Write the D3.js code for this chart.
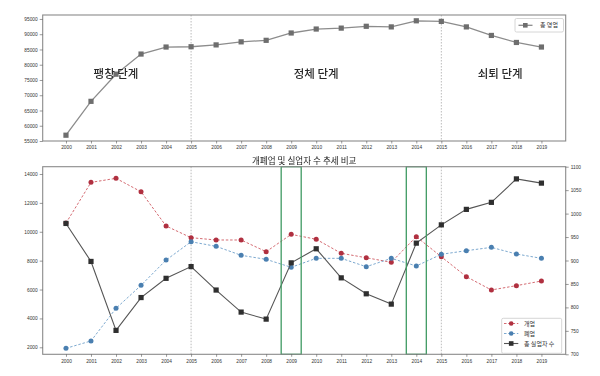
<!DOCTYPE html>
<html><head><meta charset="utf-8">
<script src="https://cdn.jsdelivr.net/npm/d3@7"></script>
<style>
html,body{margin:0;padding:0;background:#fff;}
svg{display:block;}
svg text{-webkit-font-smoothing:antialiased;}
</style></head>
<body>
<svg id="chart" width="600" height="376"></svg>
<script>
// ---- data ----
const years = [2000,2001,2002,2003,2004,2005,2006,2007,2008,2009,2010,2011,2012,2013,2014,2015,2016,2017,2018,2019];
const totalBusiness = [56900,68000,76900,83500,85800,85900,86500,87500,88000,90400,91700,92000,92600,92400,94400,94200,92400,89600,87300,85800];
const openings = [10600,13420,13700,12770,10400,9590,9430,9430,8620,9820,9480,8510,8200,7890,9660,8270,6890,5970,6270,6590];
const closures = [1930,2440,4700,6290,8040,9310,8990,8370,8090,7540,8160,8160,7580,8160,7630,8440,8690,8920,8460,8160];
const unemployed = [979,898,751,821,862,887,837,790,775,895,925,863,829,807,937,976,1009,1024,1074,1065];
const topTicks = [55000,60000,65000,70000,75000,80000,85000,90000,95000];
const leftTicks = [2000,4000,6000,8000,10000,12000,14000];
const rightTicks = [700,750,800,850,900,950,1000,1050,1100];
const phaseBoundaries = [2005,2015];
const phaseNames = ["팽창 단계","정체 단계","쇠퇴 단계"];
const phaseYears = [2002,2010,2017.35];
const highlightYears = [2009,2014];
const topLegend = ["총 영업"];
const bottomLegend = ["개업","폐업","총 실업자 수"];
const bottomTitle = "개폐업 및 실업자 수 추세 비교";

// ---- layout ----
const svg = d3.select("#chart");
const L = 42.7, R = 565.7;
const numFont = "'Liberation Sans', Arial, sans-serif";
const krFont = "'Noto Sans CJK KR', sans-serif";
const x = d3.scaleLinear().domain([1999.07, 2019.97]).range([L, R]);
const defs = svg.append("defs");
defs.append("filter").attr("id","gray").attr("x","-5%").attr("y","-20%").attr("width","110%").attr("height","140%")
  .append("feColorMatrix").attr("type","saturate").attr("values","0");
const root = svg.append("g");

function frame(g, top, bottom){
  g.append("rect").attr("x",L).attr("y",top).attr("width",R-L).attr("height",bottom-top)
   .attr("fill","none").attr("stroke","#8a8a8a").attr("stroke-width",1.1);
}
function styleAxis(a){
  a.select(".domain").remove();
  a.selectAll(".tick line").attr("stroke","#555").attr("stroke-width",0.6);
  a.selectAll(".tick text").attr("font-family",numFont).attr("font-size",4.8).attr("fill","#333");
}

// ---- top chart ----
const T0 = 15, T1 = 141;
const yTop = d3.scaleLinear().domain([55000, 96300]).range([T1, T0]);
const gt = root.append("g");
gt.append("rect").attr("x",L).attr("y",T0).attr("width",R-L).attr("height",T1-T0).attr("fill","#fff");
gt.selectAll("line.vb").data(phaseBoundaries).join("line")
  .attr("x1",d=>x(d)).attr("x2",d=>x(d)).attr("y1",T0).attr("y2",T1)
  .attr("stroke","#aaa").attr("stroke-width",0.8).attr("stroke-dasharray","1.5,1.5");
gt.append("path").datum(years.map((y,i)=>[y,totalBusiness[i]]))
  .attr("d", d3.line().x(d=>x(d[0])).y(d=>yTop(d[1])))
  .attr("fill","none").attr("stroke","#8c8c8c").attr("stroke-width",1.3);
gt.selectAll("rect.m").data(years.map((y,i)=>[y,totalBusiness[i]])).join("rect")
  .attr("x",d=>x(d[0])-2.6).attr("y",d=>yTop(d[1])-2.6).attr("width",5.2).attr("height",5.2)
  .attr("fill","#6e6e6e");
gt.append("g").attr("filter","url(#gray)").selectAll("text").data(phaseNames).join("text")
  .attr("x",(d,i)=>x(phaseYears[i])).attr("y",74).attr("dy","0.36em")
  .attr("text-anchor","middle").attr("font-family",krFont).attr("font-size",11.5)
  .attr("font-weight",500).attr("fill","#2a2a2a").text(d=>d);
frame(gt, T0, T1);
const axTL = gt.append("g").attr("transform",`translate(${L},0)`)
  .call(d3.axisLeft(yTop).tickValues(topTicks).tickFormat(d3.format("d")).tickSize(3).tickPadding(2));
styleAxis(axTL);
const axTB = gt.append("g").attr("transform",`translate(0,${T1})`)
  .call(d3.axisBottom(x).tickValues(years).tickFormat(d3.format("d")).tickSize(2.5).tickPadding(2.5));
styleAxis(axTB);
// top legend
const lg1 = gt.append("g");
lg1.append("rect").attr("x",515).attr("y",18.5).attr("width",48.5).attr("height",13.5)
  .attr("fill","#fff").attr("stroke","#ccc").attr("stroke-width",0.8).attr("rx",1.5);
lg1.append("line").attr("x1",518.5).attr("x2",532.5).attr("y1",25.3).attr("y2",25.3)
  .attr("stroke","#8c8c8c").attr("stroke-width",1.3);
lg1.append("rect").attr("x",523).attr("y",23).attr("width",4.6).attr("height",4.6).attr("fill","#6e6e6e");
lg1.append("text").attr("x",540).attr("y",25.3).attr("dy","0.36em").attr("font-family",krFont)
  .attr("font-size",6).attr("fill","#333").text(topLegend[0]);

// ---- bottom chart ----
const B0 = 166.7, B1 = 354.3;
const yL = d3.scaleLinear().domain([1516, 14505]).range([B1, B0]);
const yR = d3.scaleLinear().domain([700, 1100]).range([B1, B0]);
const gb = root.append("g");
gb.append("rect").attr("x",L).attr("y",B0).attr("width",R-L).attr("height",B1-B0).attr("fill","#fff");
gb.selectAll("line.vb").data(phaseBoundaries).join("line")
  .attr("x1",d=>x(d)).attr("x2",d=>x(d)).attr("y1",B0).attr("y2",B1)
  .attr("stroke","#aaa").attr("stroke-width",0.8).attr("stroke-dasharray","1.5,1.5");

const series = [
  {vals:openings, scale:yL, line:"#cf5a62", mark:"#b03040", dash:"2.5,1.8", shape:"circle", w:0.9},
  {vals:closures, scale:yL, line:"#6e9fca", mark:"#4a7fb0", dash:"2.5,1.8", shape:"circle", w:0.9},
  {vals:unemployed, scale:yR, line:"#555", mark:"#2f2f2f", dash:null, shape:"square", w:1.1}
];
series.forEach(s=>{
  const pts = years.map((y,i)=>[y,s.vals[i]]);
  gb.append("path").datum(pts)
    .attr("d", d3.line().x(d=>x(d[0])).y(d=>s.scale(d[1])))
    .attr("fill","none").attr("stroke",s.line).attr("stroke-width",s.w)
    .attr("stroke-dasharray",s.dash);
  if(s.shape==="circle"){
    gb.selectAll(null).data(pts).join("circle")
      .attr("cx",d=>x(d[0])).attr("cy",d=>s.scale(d[1])).attr("r",2.5).attr("fill",s.mark);
  } else {
    gb.selectAll(null).data(pts).join("rect")
      .attr("x",d=>x(d[0])-2.6).attr("y",d=>s.scale(d[1])-2.6).attr("width",5.2).attr("height",5.2)
      .attr("fill",s.mark);
  }
});
// highlight boxes
gb.selectAll("rect.hl").data(highlightYears).join("rect")
  .attr("x",d=>x(d-0.4)).attr("y",B0).attr("width",d=>x(d+0.4)-x(d-0.4)).attr("height",B1-B0)
  .attr("fill","none").attr("stroke","#3f9a63").attr("stroke-width",1.3);
frame(gb, B0, B1);
const axBL = gb.append("g").attr("transform",`translate(${L},0)`)
  .call(d3.axisLeft(yL).tickValues(leftTicks).tickFormat(d3.format("d")).tickSize(3).tickPadding(2));
styleAxis(axBL);
const axBR = gb.append("g").attr("transform",`translate(${R},0)`)
  .call(d3.axisRight(yR).tickValues(rightTicks).tickFormat(d3.format("d")).tickSize(3).tickPadding(2));
styleAxis(axBR);
const axBB = gb.append("g").attr("transform",`translate(0,${B1})`)
  .call(d3.axisBottom(x).tickValues(years).tickFormat(d3.format("d")).tickSize(2.5).tickPadding(2.5));
styleAxis(axBB);
gb.append("g").attr("filter","url(#gray)").append("text").attr("x",(L+R)/2).attr("y",160.5).attr("dy","0.36em").attr("text-anchor","middle")
  .attr("font-family",krFont).attr("font-size",8.6).attr("fill","#222").text(bottomTitle);
// bottom legend
const lg2 = gb.append("g");
lg2.append("rect").attr("x",501.7).attr("y",318.3).attr("width",60).attr("height",35)
  .attr("fill","#fff").attr("stroke","#ccc").attr("stroke-width",0.8).attr("rx",1.5);
bottomLegend.forEach((name,i)=>{
  const s = series[i], yy = 323.5 + i*10;
  lg2.append("line").attr("x1",504).attr("x2",518.3).attr("y1",yy).attr("y2",yy)
    .attr("stroke",s.line).attr("stroke-width",s.w).attr("stroke-dasharray",s.dash);
  if(s.shape==="circle") lg2.append("circle").attr("cx",511.2).attr("cy",yy).attr("r",2.3).attr("fill",s.mark);
  else lg2.append("rect").attr("x",508.9).attr("y",yy-2.3).attr("width",4.6).attr("height",4.6).attr("fill",s.mark);
  lg2.append("text").attr("x",524).attr("y",yy).attr("dy","0.36em").attr("font-family",krFont)
    .attr("font-size",6).attr("fill","#333").text(name);
});
</script>
</body></html>
